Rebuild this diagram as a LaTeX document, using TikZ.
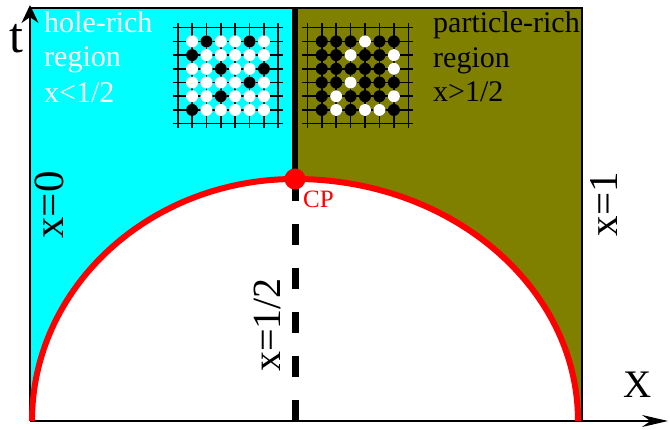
\documentclass[tikz,border=0pt]{standalone}
\usepackage{fontspec}
\setmainfont{Liberation Serif}
\usetikzlibrary{arrows.meta}
\definecolor{holecyan}{RGB}{0,255,255}
\definecolor{partolive}{RGB}{128,128,0}

\begin{document}
\begin{tikzpicture}[
  x=1pt, y=1pt,
  txt/.style={inner sep=0pt, anchor=base west, font=\rmfamily\fontsize{30}{36}\selectfont},
  wtxt/.style={txt, text=white},
  vlab/.style={inner sep=0pt, rotate=90, anchor=base},
  axis/.style={line width=1.5pt},
  grid line/.style={line width=1.6pt},
  cp dot/.style={circle, fill=red, inner sep=0pt, minimum size=21pt},
]
\useasboundingbox (-30,-9) rectangle (640,421);
% phase regions
\fill[holecyan] (0,0) rectangle (265,413);
\fill[partolive] (265,0) rectangle (552,413);
\fill[white] (2,0) arc[start angle=180, end angle=90, x radius=263, y radius=242]
  arc[start angle=90, end angle=0, x radius=283, y radius=242] -- cycle;
\draw[line width=1.2pt] (0,413) -- (552,413) -- (552,0);

\coordinate (o)    at (0,0);
\coordinate (tend) at (0,416);
\coordinate (xend) at (638,0);
\coordinate (top)  at (265,413);
\coordinate (bot)  at (265,0);
\draw[axis, -{Stealth[length=18pt,width=17pt]}] (o) -- (tend);
\draw[axis, -{Stealth[length=26pt,width=12pt]}] (o) -- (xend);

% x=1/2 line
\draw[line width=6pt] (top) -- (265,242);
\draw[line width=7pt, dash pattern=on 21pt off 23pt] (bot) -- (265,242);

% coexistence curve
\draw[red, line width=6pt] (2,0) arc[start angle=180, end angle=90, x radius=263, y radius=242]
  arc[start angle=90, end angle=0, x radius=283, y radius=242];
\node[cp dot] (cp) at (265,242) {};
\node[txt, red, font=\rmfamily\fontsize{25}{30}\selectfont] (cplab) at (273,213) {CP};

% lattices
\begin{scope}[shift={(147.7,393.3)}, x=14.37pt, y=-13.71pt]
  \foreach \i in {0,...,7} {
    \draw[grid line] (\i,-0.35) -- (\i,7.35);
    \draw[grid line] (-0.35,\i) -- (7.35,\i);
  }
  \foreach \i in {1,...,6}
    \foreach \j in {1,...,6}
      \fill[white] (\i,\j) circle[radius=6pt];
  \foreach \i/\j in {2/1,5/1,1/2,3/3,6/3,5/4,3/5,1/6}
    \fill[black] (\i,\j) circle[radius=6pt];
\end{scope}
\begin{scope}[shift={(277.3,393.3)}, x=14.43pt, y=-13.71pt]
  \foreach \i in {0,...,7} {
    \draw[grid line] (\i,-0.35) -- (\i,7.35);
    \draw[grid line] (-0.35,\i) -- (7.35,\i);
  }
  \foreach \i in {1,...,6}
    \foreach \j in {1,...,6}
      \fill[black] (\i,\j) circle[radius=6pt];
  \foreach \i/\j in {4/1,3/2,6/2,6/3,3/4,2/5,6/5,2/6,4/6,5/6}
    \fill[white] (\i,\j) circle[radius=6pt];
\end{scope}

% labels
\node[wtxt] (hole1) at (14,388) {hole-rich};
\node[wtxt] (hole2) at (14,354) {region};
\node[wtxt] (hole3) at (14,318) {x<1/2};
\node[txt] (part1) at (403,388) {particle-rich};
\node[txt] (part2) at (403,353) {region};
\node[txt] (part3) at (403,319) {x>1/2};

\node[inner sep=0pt, anchor=base, font=\rmfamily\fontsize{50}{60}\selectfont] (tlab) at (-14,368) {t};
\node[txt, font=\rmfamily\fontsize{39}{46}\selectfont] (xlab) at (593,23) {X};
\node[vlab, font=\rmfamily\fontsize{43}{50}\selectfont] (x0) at (33,216) {x=0};
\node[vlab, font=\rmfamily\fontsize{41}{50}\selectfont] (x1) at (587,217) {x=1};
\node[vlab, font=\rmfamily\fontsize{40}{48}\selectfont] (xh) at (250,96) {x=1/2};
\end{tikzpicture}
\end{document}
